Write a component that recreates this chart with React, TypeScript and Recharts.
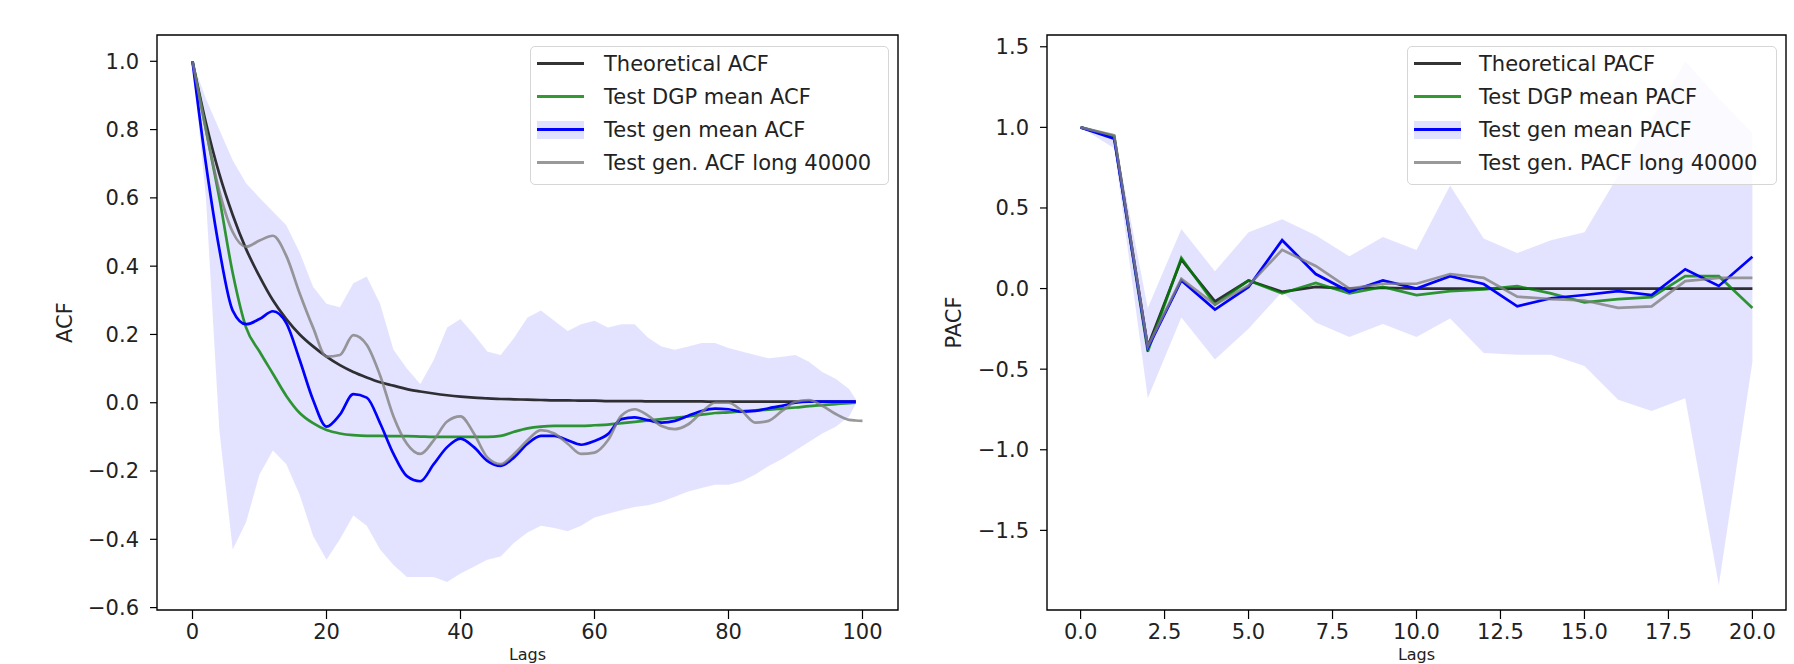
import React from 'react'
import { ComposedChart, Line, Area, XAxis, YAxis, ReferenceArea, Legend } from 'recharts'

// ---- ACF panel (lags 0..100)
const ACF_LAGS = [0, 2, 4, 6, 8, 10, 12, 14, 16, 18, 20, 22, 24, 26, 28, 30, 32, 34, 36, 38, 40, 42, 44, 46, 48, 50, 52, 54, 56, 58, 60, 62, 64, 66, 68, 70, 72, 74, 76, 78, 80, 82, 84, 86, 88, 90, 92, 94, 96, 98, 99, 100]
const ACF_THEORY = [1.0, 0.82, 0.67, 0.55, 0.45, 0.37, 0.30, 0.245, 0.20, 0.165, 0.135, 0.11, 0.09, 0.074, 0.06, 0.05, 0.04, 0.033, 0.027, 0.022, 0.018, 0.015, 0.013, 0.011, 0.01, 0.009, 0.008, 0.007, 0.007, 0.006, 0.006, 0.005, 0.005, 0.005, 0.004, 0.004, 0.004, 0.004, 0.004, 0.003, 0.003, 0.003, 0.003, 0.003, 0.003, 0.003, 0.003, 0.003, 0.003, 0.003, 0.003, null]
const ACF_DGP = [1.0, 0.80, 0.60, 0.38, 0.22, 0.15, 0.085, 0.02, -0.03, -0.06, -0.08, -0.09, -0.095, -0.097, -0.097, -0.098, -0.098, -0.099, -0.1, -0.1, -0.1, -0.1, -0.1, -0.097, -0.085, -0.075, -0.07, -0.068, -0.068, -0.068, -0.066, -0.064, -0.06, -0.056, -0.052, -0.048, -0.044, -0.04, -0.035, -0.03, -0.028, -0.025, -0.022, -0.02, -0.017, -0.014, -0.01, -0.007, -0.004, -0.001, 0.0, null]
const ACF_GEN = [1.0, 0.70, 0.45, 0.27, 0.23, 0.245, 0.268, 0.233, 0.125, 0.008, -0.07, -0.035, 0.025, 0.015, -0.06, -0.15, -0.215, -0.23, -0.18, -0.13, -0.105, -0.13, -0.17, -0.185, -0.16, -0.12, -0.097, -0.097, -0.11, -0.123, -0.112, -0.092, -0.048, -0.043, -0.051, -0.058, -0.053, -0.038, -0.024, -0.017, -0.019, -0.026, -0.024, -0.016, -0.009, 0.0, 0.003, 0.003, 0.003, 0.003, 0.003, null]
const ACF_LONG = [1.0, 0.80, 0.62, 0.50, 0.457, 0.475, 0.489, 0.43, 0.32, 0.22, 0.135, 0.14, 0.198, 0.17, 0.08, -0.04, -0.12, -0.15, -0.11, -0.055, -0.04, -0.09, -0.16, -0.18, -0.15, -0.11, -0.08, -0.09, -0.12, -0.15, -0.146, -0.11, -0.038, -0.019, -0.038, -0.068, -0.077, -0.063, -0.028, 0.0, 0.0, -0.024, -0.058, -0.053, -0.024, 0.003, 0.008, -0.009, -0.033, -0.05, -0.052, -0.053]
const ACF_BAND_HI = [1.0, 0.89, 0.80, 0.71, 0.643, 0.60, 0.56, 0.52, 0.44, 0.34, 0.29, 0.28, 0.35, 0.37, 0.29, 0.155, 0.10, 0.055, 0.125, 0.22, 0.245, 0.20, 0.15, 0.14, 0.19, 0.25, 0.27, 0.24, 0.21, 0.23, 0.24, 0.22, 0.23, 0.23, 0.19, 0.165, 0.155, 0.165, 0.175, 0.175, 0.16, 0.15, 0.14, 0.13, 0.135, 0.14, 0.12, 0.09, 0.07, 0.04, 0.01, null]
const ACF_BAND_LO = [1.0, 0.60, -0.08, -0.43, -0.35, -0.21, -0.14, -0.18, -0.27, -0.39, -0.46, -0.40, -0.33, -0.36, -0.43, -0.475, -0.51, -0.51, -0.51, -0.525, -0.50, -0.48, -0.46, -0.45, -0.41, -0.38, -0.36, -0.367, -0.376, -0.36, -0.336, -0.325, -0.315, -0.305, -0.30, -0.29, -0.275, -0.26, -0.25, -0.24, -0.24, -0.23, -0.21, -0.185, -0.165, -0.14, -0.115, -0.09, -0.07, -0.04, -0.004, null]
const ACF_XTICKS = [0, 20, 40, 60, 80, 100]
const ACF_YTICKS = [-0.6, -0.4, -0.2, 0, 0.2, 0.4, 0.6, 0.8, 1.0]
const ACF_XDOM = [-5.3, 105.3]
const ACF_YDOM = [-0.607, 1.077]

// ---- PACF panel (lags 0..20)
const PACF_LAGS = [0, 1, 2, 3, 4, 5, 6, 7, 8, 9, 10, 11, 12, 13, 14, 15, 16, 17, 18, 19, 20]
const PACF_THEORY = [1.0, 0.945, -0.36, 0.18, -0.08, 0.05, -0.02, 0.01, 0.0, 0.005, 0, 0, 0, 0, 0, 0, 0, 0, 0, 0, 0]
const PACF_DGP = [1.0, 0.94, -0.39, 0.19, -0.10, 0.05, -0.03, 0.035, -0.03, 0.01, -0.04, -0.016, -0.005, 0.015, -0.03, -0.085, -0.066, -0.053, 0.077, 0.077, -0.12]
const PACF_GEN = [1.0, 0.93, -0.37, 0.05, -0.13, 0.01, 0.30, 0.09, -0.02, 0.05, 0.0, 0.077, 0.028, -0.11, -0.06, -0.04, -0.016, -0.04, 0.12, 0.016, 0.197]
const PACF_LONG = [1.0, 0.95, -0.36, 0.06, -0.10, 0.02, 0.24, 0.14, 0.0, 0.03, 0.03, 0.09, 0.066, -0.05, -0.066, -0.074, -0.12, -0.11, 0.046, 0.066, 0.066]
const PACF_BAND_HI = [1.0, 0.96, -0.12, 0.37, 0.107, 0.35, 0.43, 0.33, 0.2, 0.32, 0.24, 0.64, 0.31, 0.22, 0.30, 0.35, 0.70, 1.05, 1.41, 1.18, 0.965]
const PACF_BAND_LO = [1.0, 0.87, -0.68, -0.18, -0.44, -0.25, -0.02, -0.21, -0.30, -0.22, -0.30, -0.185, -0.40, -0.41, -0.41, -0.48, -0.69, -0.76, -0.68, -1.84, -0.456]
const PACF_XTICKS = [0, 2.5, 5, 7.5, 10, 12.5, 15, 17.5, 20]
const PACF_YTICKS = [-1.5, -1.0, -0.5, 0, 0.5, 1.0, 1.5]
const PACF_XDOM = [-1, 21]
const PACF_YDOM = [-1.994, 1.573]

const FONT = 'DejaVu Sans, sans-serif'
const TICK = { fontSize: 21, fill: '#222', fontFamily: FONT }
const C_THEORY = '#000000'
const C_DGP = '#008000'
const C_GEN = '#0000ff'
const C_LONG = '#808080'

const fmt1 = (v: number) => v.toFixed(1).replace('-', '\u2212')

function buildRows(lags: number[], th: any[], dgp: any[], gen: any[], lng: any[], lo: any[], hi: any[]) {
  return lags.map((lag, i) => ({
    lag,
    theory: th[i],
    dgp: dgp[i],
    gen: gen[i],
    long: lng[i],
    band: hi[i] == null ? null : [lo[i], hi[i]],
  }))
}

const acfRows = buildRows(ACF_LAGS, ACF_THEORY, ACF_DGP, ACF_GEN, ACF_LONG, ACF_BAND_LO, ACF_BAND_HI)
const pacfRows = buildRows(PACF_LAGS, PACF_THEORY, PACF_DGP, PACF_GEN, PACF_LONG, PACF_BAND_LO, PACF_BAND_HI)

function LegendBox({ labels, textLeft }: { labels: string[]; textLeft: number }) {
  const colors = [C_THEORY, C_DGP, C_GEN, C_LONG]
  return (
    <div style={{
      position: 'relative', width: '100%', height: '100%', boxSizing: 'border-box',
      border: '1.5px solid #d6d6d6', borderRadius: 5, background: 'rgba(255,255,255,0.85)',
      fontFamily: FONT, fontSize: 21, color: '#222',
    }}>
      {labels.map((t, i) => (
        <div key={t} style={{ position: 'absolute', left: 0, top: 3 + i * 33, height: 28, width: '100%' }}>
          {i === 2 && (
            <div style={{ position: 'absolute', left: 6, top: 5, width: 47, height: 18, background: 'rgba(0,0,255,0.12)' }} />
          )}
          <div style={{
            position: 'absolute', left: 6, top: 12, width: 47, height: 3,
            background: colors[i], opacity: i === 2 ? 1 : 0.8,
          }} />
          <div style={{ position: 'absolute', left: textLeft, top: 0, lineHeight: '28px', whiteSpace: 'nowrap' }}>{t}</div>
        </div>
      ))}
    </div>
  )
}

function Panel(props: {
  rows: any[]; width: number; yAxisW: number; right: number
  xdom: number[]; ydom: number[]; xticks: number[]; yticks: number[]
  xfmt: (v: number) => string; lineType: 'monotone' | 'linear'
  legendLabels: string[]; legendLeft: number; legendWidth: number; textLeft: number
}) {
  const p = props
  return (
    <ComposedChart width={p.width} height={664} data={p.rows} margin={{ top: 35, right: p.right, left: 0, bottom: 0 }}>
      <XAxis
        type="number" dataKey="lag" domain={p.xdom} ticks={p.xticks} interval={0} allowDataOverflow
        height={54} axisLine={false} tickLine={{ stroke: '#000', strokeWidth: 1.2 }} tickSize={9} tickMargin={5}
        tick={TICK} tickFormatter={p.xfmt}
      />
      <YAxis
        type="number" domain={p.ydom} ticks={p.yticks} interval={0} allowDataOverflow
        width={p.yAxisW} axisLine={false} tickLine={{ stroke: '#000', strokeWidth: 1.2 }} tickSize={7} tickMargin={11}
        tick={TICK} tickFormatter={fmt1}
      />
      <Area type="linear" dataKey="band" stroke="none" fill={C_GEN} fillOpacity={0.11} isAnimationActive={false} />
      <Line type={p.lineType} dataKey="theory" stroke={C_THEORY} strokeOpacity={0.8} strokeWidth={2.7} dot={false} isAnimationActive={false} />
      <Line type={p.lineType} dataKey="dgp" stroke={C_DGP} strokeOpacity={0.8} strokeWidth={2.7} dot={false} isAnimationActive={false} />
      <Line type={p.lineType} dataKey="gen" stroke={C_GEN} strokeWidth={2.7} dot={false} isAnimationActive={false} />
      <Line type={p.lineType} dataKey="long" stroke={C_LONG} strokeOpacity={0.8} strokeWidth={2.7} dot={false} isAnimationActive={false} />
      <ReferenceArea x1={p.xdom[0]} x2={p.xdom[1]} y1={p.ydom[0]} y2={p.ydom[1]} fill="none" stroke="#000" strokeWidth={1.4} />
      <Legend
        layout="vertical" align="center" verticalAlign="middle"
        wrapperStyle={{ position: 'absolute', left: p.legendLeft, top: 46, width: p.legendWidth, height: 139 }}
        content={() => <LegendBox labels={p.legendLabels} textLeft={p.textLeft} />}
      />
    </ComposedChart>
  )
}

export default function App() {
  return (
    <div style={{ position: 'absolute', left: 0, top: 0, width: 1794, height: 664, background: '#fff', overflow: 'hidden' }}>
      <div style={{ position: 'absolute', left: 0, top: 0 }}>
        <Panel
          rows={acfRows} width={900} yAxisW={157} right={2}
          xdom={ACF_XDOM} ydom={ACF_YDOM} xticks={ACF_XTICKS} yticks={ACF_YTICKS}
          xfmt={(v) => String(v)} lineType="monotone"
          legendLabels={['Theoretical ACF', 'Test DGP mean ACF', 'Test gen mean ACF', 'Test gen. ACF long 40000']}
          legendLeft={530} legendWidth={359} textLeft={73}
        />
      </div>
      <div style={{ position: 'absolute', left: 900, top: 0 }}>
        <Panel
          rows={pacfRows} width={894} yAxisW={147} right={8}
          xdom={PACF_XDOM} ydom={PACF_YDOM} xticks={PACF_XTICKS} yticks={PACF_YTICKS}
          xfmt={fmt1} lineType="linear"
          legendLabels={['Theoretical PACF', 'Test DGP mean PACF', 'Test gen mean PACF', 'Test gen. PACF long 40000']}
          legendLeft={507} legendWidth={370} textLeft={71}
        />
      </div>
      <svg width={1794} height={664} style={{ position: 'absolute', left: 0, top: 0, pointerEvents: 'none' }}>
        <g fontFamily={FONT} fontSize={16} fill="#222">
          <text x={0} y={0} fontSize={21} transform="translate(65 322.5) rotate(-90)" textAnchor="middle" dominantBaseline="central">ACF</text>
          <text x={0} y={0} fontSize={21} transform="translate(954 322.5) rotate(-90)" textAnchor="middle" dominantBaseline="central">PACF</text>
          <text x={527.5} y={660} textAnchor="middle">Lags</text>
          <text x={1416.5} y={660} textAnchor="middle">Lags</text>
        </g>
      </svg>
    </div>
  )
}
